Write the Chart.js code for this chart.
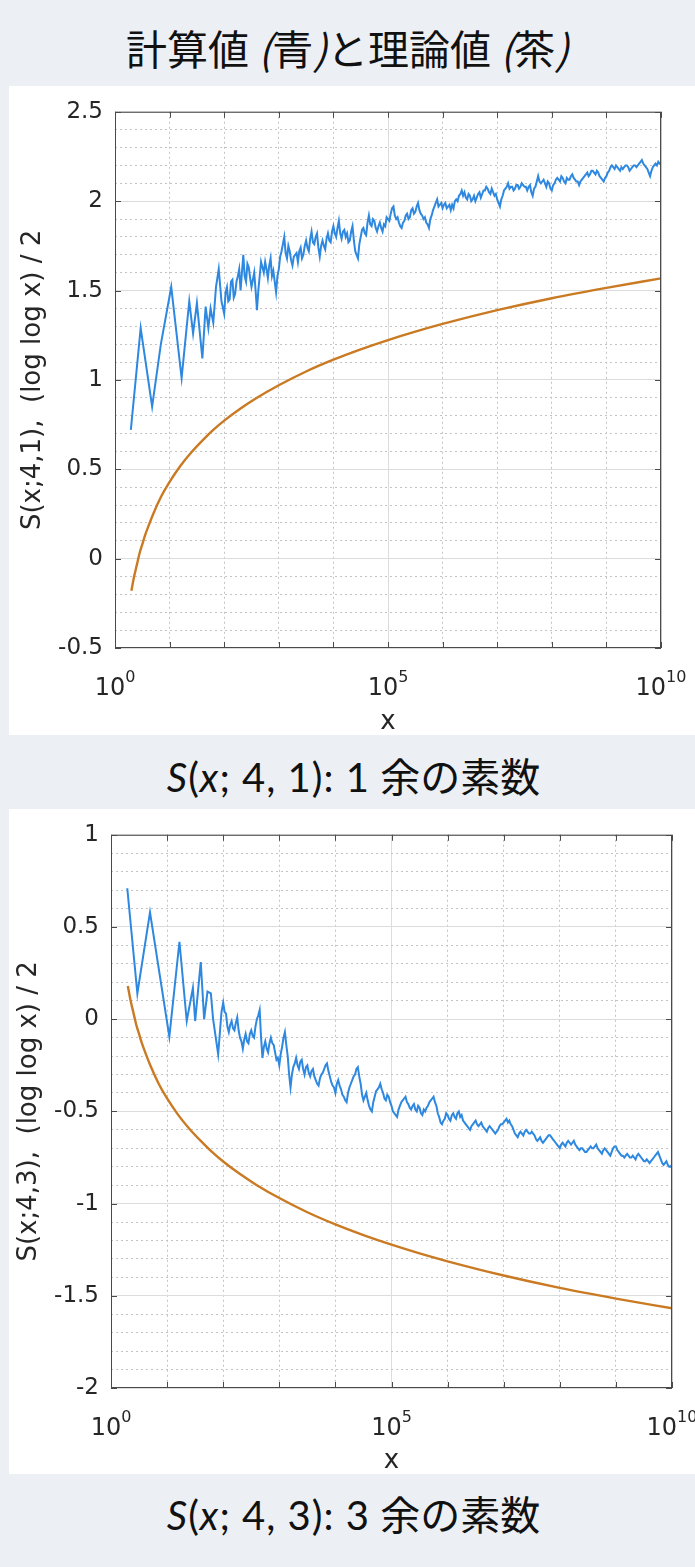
<!DOCTYPE html>
<html>
<head>
<meta charset="utf-8">
<script src="https://cdn.jsdelivr.net/npm/chart.js@4.4.1/dist/chart.umd.min.js"></script>
<style>
  body { margin: 0; width: 695px; height: 1567px; background: #ecf0f5; position: relative; overflow: hidden; }
  .txt { position: absolute; left: 0; width: 695px; text-align: center; color: #111;
         font-family: "Noto Sans CJK JP", sans-serif; line-height: 48px; white-space: nowrap; }
  #title { top: 23px; font-size: 41px; }
  .cap { font-family: Lato, "Noto Sans CJK JP", sans-serif; font-size: 40px; padding-left: 12px; box-sizing: border-box; }
  .cap .m { letter-spacing: 1px; }
  #cap1 { top: 753px; }
  #cap2 { top: 1491px; }
  .panel { position: absolute; left: 9px; width: 686px; background: #fff; }
  #p1 { top: 86px; height: 649px; }
  #p2 { top: 809px; height: 665px; }
  canvas { display: block; }
</style>
</head>
<body>
<div id="title" class="txt">計算値 <i>(</i>青<i>)</i>と理論値 <i>(</i>茶<i>)</i></div>
<div id="p1" class="panel"><canvas id="c1" width="686" height="649"></canvas></div>
<div id="cap1" class="txt cap"><span class="m"><i>S</i>(<i>x</i>; 4, 1): 1</span> 余の素数</div>
<div id="p2" class="panel"><canvas id="c2" width="686" height="665"></canvas></div>
<div id="cap2" class="txt cap"><span class="m"><i>S</i>(<i>x</i>; 4, 3): 3</span> 余の素数</div>

<script>
// x values are log10(x)
const xLabelExps = [0, 5, 10];
const xTickExps = [0, 1, 2, 3, 4, 5, 6, 7, 8, 9, 10];

// computed S(x;4,1) - sparse start
const earlyX41 = [0.29, 0.47, 0.68, 0.84, 1.03, 1.22, 1.36, 1.43, 1.50, 1.60, 1.66, 1.71, 1.75, 1.80, 1.85, 1.90, 1.95, 2.00];
const earlyY41 = [0.72, 1.29, 0.85, 1.20, 1.52, 1.01, 1.44, 1.26, 1.43, 1.12, 1.41, 1.29, 1.40, 1.32, 1.52, 1.62, 1.44, 1.37];

// computed S(x;4,3) - sparse start
const earlyX43 = [0.29, 0.47, 0.695, 1.04, 1.22, 1.35, 1.46, 1.50, 1.60, 1.66, 1.72, 1.78, 1.82, 1.91, 1.97, 2.00];
const earlyY43 = [0.71, 0.14, 0.58, -0.095, 0.42, -0.01, 0.17, -0.01, 0.31, 0.0, 0.15, 0.14, 0.0, -0.19, 0.04, 0.09];

// dense part, shared x (one row = half a decade)
const denseX = [
  2.025, 2.05, 2.075, 2.1, 2.125, 2.15, 2.175, 2.2, 2.225, 2.25, 2.275, 2.3, 2.325, 2.35, 2.375, 2.4, 2.425, 2.45, 2.475, 2.5,
  2.525, 2.55, 2.575, 2.6, 2.625, 2.65, 2.675, 2.7, 2.725, 2.75, 2.775, 2.8, 2.825, 2.85, 2.875, 2.9, 2.925, 2.95, 2.975, 3.0,
  3.025, 3.05, 3.075, 3.1, 3.125, 3.15, 3.175, 3.2, 3.225, 3.25, 3.275, 3.3, 3.325, 3.35, 3.375, 3.4, 3.425, 3.45, 3.475, 3.5,
  3.525, 3.55, 3.575, 3.6, 3.625, 3.65, 3.675, 3.7, 3.725, 3.75, 3.775, 3.8, 3.825, 3.85, 3.875, 3.9, 3.925, 3.95, 3.975, 4.0,
  4.025, 4.05, 4.075, 4.1, 4.125, 4.15, 4.175, 4.2, 4.225, 4.25, 4.275, 4.3, 4.325, 4.35, 4.375, 4.4, 4.425, 4.45, 4.475, 4.5,
  4.525, 4.55, 4.575, 4.6, 4.625, 4.65, 4.675, 4.7, 4.725, 4.75, 4.775, 4.8, 4.825, 4.85, 4.875, 4.9, 4.925, 4.95, 4.975, 5.0,
  5.025, 5.05, 5.075, 5.1, 5.125, 5.15, 5.175, 5.2, 5.225, 5.25, 5.275, 5.3, 5.325, 5.35, 5.375, 5.4, 5.425, 5.45, 5.475, 5.5,
  5.525, 5.55, 5.575, 5.6, 5.625, 5.65, 5.675, 5.7, 5.725, 5.75, 5.775, 5.8, 5.825, 5.85, 5.875, 5.9, 5.925, 5.95, 5.975, 6.0,
  6.025, 6.05, 6.075, 6.1, 6.125, 6.15, 6.175, 6.2, 6.225, 6.25, 6.275, 6.3, 6.325, 6.35, 6.375, 6.4, 6.425, 6.45, 6.475, 6.5,
  6.525, 6.55, 6.575, 6.6, 6.625, 6.65, 6.675, 6.7, 6.725, 6.75, 6.775, 6.8, 6.825, 6.85, 6.875, 6.9, 6.925, 6.95, 6.975, 7.0,
  7.025, 7.05, 7.075, 7.1, 7.125, 7.15, 7.175, 7.2, 7.225, 7.25, 7.275, 7.3, 7.325, 7.35, 7.375, 7.4, 7.425, 7.45, 7.475, 7.5,
  7.525, 7.55, 7.575, 7.6, 7.625, 7.65, 7.675, 7.7, 7.725, 7.75, 7.775, 7.8, 7.825, 7.85, 7.875, 7.9, 7.925, 7.95, 7.975, 8.0,
  8.025, 8.05, 8.075, 8.1, 8.125, 8.15, 8.175, 8.2, 8.225, 8.25, 8.275, 8.3, 8.325, 8.35, 8.375, 8.4, 8.425, 8.45, 8.475, 8.5,
  8.525, 8.55, 8.575, 8.6, 8.625, 8.65, 8.675, 8.7, 8.725, 8.75, 8.775, 8.8, 8.825, 8.85, 8.875, 8.9, 8.925, 8.95, 8.975, 9.0,
  9.025, 9.05, 9.075, 9.1, 9.125, 9.15, 9.175, 9.2, 9.225, 9.25, 9.275, 9.3, 9.325, 9.35, 9.375, 9.4, 9.425, 9.45, 9.475, 9.5,
  9.525, 9.55, 9.575, 9.6, 9.625, 9.65, 9.675, 9.7, 9.725, 9.75, 9.775, 9.8, 9.825, 9.85, 9.875, 9.9, 9.925, 9.95, 9.975, 10.0
];
const denseY41 = [
  1.49, 1.52, 1.44, 1.45, 1.55, 1.56, 1.46, 1.48, 1.55, 1.58, 1.62, 1.50, 1.60, 1.70, 1.58, 1.55, 1.65, 1.63, 1.57, 1.52,
  1.56, 1.60, 1.50, 1.39, 1.50, 1.58, 1.66, 1.63, 1.60, 1.66, 1.62, 1.57, 1.64, 1.68, 1.58, 1.61, 1.55, 1.49, 1.58, 1.62,
  1.69, 1.72, 1.76, 1.80, 1.71, 1.68, 1.75, 1.72, 1.67, 1.64, 1.69, 1.70, 1.71, 1.66, 1.72, 1.74, 1.68, 1.70, 1.75, 1.78,
  1.74, 1.72, 1.79, 1.83, 1.77, 1.76, 1.80, 1.82, 1.74, 1.69, 1.75, 1.78, 1.75, 1.73, 1.79, 1.82, 1.78, 1.77, 1.83, 1.86,
  1.82, 1.80, 1.85, 1.89, 1.82, 1.79, 1.83, 1.84, 1.80, 1.82, 1.77, 1.78, 1.83, 1.86, 1.78, 1.72, 1.70, 1.68, 1.76, 1.80,
  1.84, 1.85, 1.82, 1.81, 1.88, 1.92, 1.87, 1.86, 1.90, 1.89, 1.85, 1.83, 1.86, 1.88, 1.85, 1.83, 1.87, 1.86, 1.91, 1.90,
  1.89, 1.93, 1.96, 1.97, 1.92, 1.90, 1.91, 1.88, 1.86, 1.85, 1.88, 1.89, 1.92, 1.93, 1.90, 1.91, 1.95, 1.96, 1.93, 1.94,
  1.97, 1.99, 1.95, 1.93, 1.92, 1.90, 1.91, 1.88, 1.87, 1.85, 1.90, 1.92, 1.95, 1.97, 1.99, 2.01, 1.97, 1.98, 1.99, 1.96,
  1.98, 1.99, 1.96, 1.97, 1.98, 1.95, 1.98, 1.96, 2.00, 2.01, 2.00, 2.03, 2.04, 2.06, 2.03, 2.05, 2.02, 2.01, 2.04, 2.03,
  2.00, 2.01, 2.03, 2.00, 2.02, 2.04, 2.05, 2.02, 2.04, 2.06, 2.06, 2.08, 2.07, 2.05, 2.04, 2.07, 2.05, 2.03, 2.04, 2.01,
  1.99, 1.97, 2.01, 2.03, 2.06, 2.07, 2.08, 2.10, 2.07, 2.08, 2.08, 2.06, 2.07, 2.09, 2.09, 2.07, 2.08, 2.10, 2.09, 2.08,
  2.08, 2.06, 2.08, 2.09, 2.05, 2.03, 2.07, 2.08, 2.11, 2.14, 2.11, 2.10, 2.11, 2.12, 2.10, 2.08, 2.11, 2.10, 2.07, 2.06,
  2.09, 2.10, 2.12, 2.13, 2.12, 2.11, 2.14, 2.13, 2.11, 2.10, 2.13, 2.12, 2.12, 2.14, 2.15, 2.13, 2.12, 2.11, 2.11, 2.09,
  2.11, 2.12, 2.13, 2.14, 2.15, 2.16, 2.14, 2.15, 2.17, 2.17, 2.16, 2.15, 2.17, 2.16, 2.14, 2.13, 2.12, 2.11, 2.13, 2.14,
  2.16, 2.17, 2.19, 2.20, 2.19, 2.18, 2.20, 2.19, 2.18, 2.17, 2.19, 2.18, 2.19, 2.20, 2.20, 2.19, 2.17, 2.18, 2.19, 2.20,
  2.20, 2.19, 2.20, 2.21, 2.22, 2.23, 2.21, 2.20, 2.19, 2.18, 2.16, 2.14, 2.17, 2.19, 2.20, 2.21, 2.20, 2.22, 2.21, 2.21
];
const denseY43 = [
  0.04, 0.03, -0.04, -0.07, -0.03, -0.01, -0.05, -0.06, -0.02, 0.01, -0.06, -0.10, -0.12, -0.16, -0.11, -0.08, -0.12, -0.13, -0.08, -0.06,
  -0.09, -0.10, -0.04, 0.00, 0.02, 0.05, -0.10, -0.21, -0.15, -0.12, -0.16, -0.18, -0.13, -0.10, -0.13, -0.14, -0.18, -0.22, -0.21, -0.25,
  -0.19, -0.15, -0.10, -0.07, -0.14, -0.20, -0.30, -0.37, -0.30, -0.26, -0.24, -0.21, -0.25, -0.27, -0.23, -0.22, -0.27, -0.30, -0.26, -0.25,
  -0.29, -0.31, -0.28, -0.27, -0.31, -0.33, -0.35, -0.36, -0.32, -0.30, -0.29, -0.27, -0.25, -0.24, -0.28, -0.31, -0.34, -0.36, -0.37, -0.40,
  -0.35, -0.33, -0.36, -0.38, -0.41, -0.42, -0.44, -0.45, -0.40, -0.37, -0.35, -0.33, -0.31, -0.30, -0.27, -0.26, -0.31, -0.35, -0.41, -0.44,
  -0.42, -0.40, -0.44, -0.47, -0.49, -0.50, -0.45, -0.42, -0.39, -0.38, -0.37, -0.35, -0.38, -0.40, -0.43, -0.44, -0.41, -0.42, -0.45, -0.47,
  -0.50, -0.51, -0.52, -0.53, -0.49, -0.47, -0.45, -0.44, -0.43, -0.42, -0.45, -0.46, -0.48, -0.49, -0.47, -0.46, -0.49, -0.50, -0.47, -0.48,
  -0.51, -0.52, -0.49, -0.50, -0.48, -0.47, -0.45, -0.44, -0.43, -0.42, -0.45, -0.47, -0.51, -0.53, -0.56, -0.57, -0.55, -0.54, -0.51, -0.52,
  -0.54, -0.55, -0.52, -0.51, -0.53, -0.54, -0.51, -0.50, -0.53, -0.52, -0.55, -0.56, -0.57, -0.58, -0.59, -0.60, -0.58, -0.57, -0.56, -0.55,
  -0.57, -0.58, -0.57, -0.56, -0.58, -0.59, -0.60, -0.61, -0.59, -0.58, -0.59, -0.60, -0.61, -0.62, -0.61, -0.60, -0.58, -0.57, -0.57, -0.56,
  -0.55, -0.54, -0.56, -0.55, -0.57, -0.58, -0.60, -0.62, -0.63, -0.64, -0.62, -0.61, -0.62, -0.63, -0.61, -0.60, -0.61, -0.62, -0.62, -0.61,
  -0.62, -0.63, -0.65, -0.66, -0.65, -0.64, -0.66, -0.67, -0.66, -0.65, -0.64, -0.63, -0.63, -0.64, -0.65, -0.66, -0.67, -0.68, -0.69, -0.70,
  -0.68, -0.67, -0.68, -0.69, -0.67, -0.66, -0.67, -0.68, -0.67, -0.66, -0.68, -0.69, -0.70, -0.71, -0.70, -0.70, -0.71, -0.72, -0.72, -0.71,
  -0.70, -0.69, -0.70, -0.70, -0.69, -0.68, -0.70, -0.71, -0.72, -0.73, -0.71, -0.70, -0.71, -0.72, -0.73, -0.74, -0.72, -0.70, -0.69, -0.69,
  -0.71, -0.72, -0.73, -0.74, -0.74, -0.75, -0.74, -0.73, -0.74, -0.75, -0.75, -0.74, -0.75, -0.76, -0.74, -0.73, -0.74, -0.75, -0.76, -0.77,
  -0.77, -0.76, -0.77, -0.78, -0.77, -0.76, -0.75, -0.74, -0.73, -0.72, -0.74, -0.76, -0.78, -0.79, -0.78, -0.77, -0.79, -0.80, -0.80, -0.79
];

// theory (log log x)/2, brown
const theoryX = [0.30, 0.35, 0.40, 0.45, 0.50, 0.55, 0.60, 0.70, 0.85, 1.00, 1.20, 1.40, 1.60, 1.80, 2.00, 2.30, 2.60, 3.00, 3.50, 4.00, 4.50, 5.00, 5.50, 6.00, 7.00, 8.00, 9.00, 10.00];
const theory41 = [-0.18, -0.10, -0.035, 0.03, 0.08, 0.13, 0.172, 0.25, 0.35, 0.43, 0.52, 0.595, 0.66, 0.72, 0.772, 0.84, 0.90, 0.97, 1.047, 1.113, 1.171, 1.223, 1.27, 1.313, 1.39, 1.457, 1.515, 1.568];
const theory43 = [0.18, 0.10, 0.035, -0.03, -0.08, -0.13, -0.172, -0.25, -0.35, -0.43, -0.52, -0.595, -0.66, -0.72, -0.772, -0.84, -0.90, -0.97, -1.047, -1.113, -1.171, -1.223, -1.27, -1.313, -1.39, -1.457, -1.515, -1.568];

const BLUE = '#2e88df';
const BROWN = '#c97a22';
const AXIS = '#4a4a4a';
const TEXT = '#262626';
const FONT = '"DejaVu Sans", Verdana, sans-serif';

function pts(xs, ys) {
  return xs.map((x, i) => ({ x: x, y: ys[i] }));
}

function isMajor(v) {
  return Math.abs(v * 2 - Math.round(v * 2)) < 1e-6;
}

// box, inward ticks, 10^n labels
const framePlugin = {
  id: 'frame',
  afterDraw(chart) {
    const { ctx, chartArea: a, scales: { x, y } } = chart;
    ctx.save();
    ctx.strokeStyle = AXIS;
    ctx.lineWidth = 1;
    ctx.strokeRect(a.left + 0.5, a.top + 0.5, a.right - a.left - 1, a.bottom - a.top - 1);
    ctx.beginPath();
    xTickExps.forEach(e => {
      const px = Math.round(x.getPixelForValue(e)) + 0.5;
      ctx.moveTo(px, a.bottom); ctx.lineTo(px, a.bottom - 6);
      ctx.moveTo(px, a.top); ctx.lineTo(px, a.top + 6);
    });
    y.ticks.forEach(t => {
      if (!isMajor(t.value)) return;
      const py = Math.round(y.getPixelForValue(t.value)) + 0.5;
      ctx.moveTo(a.left, py); ctx.lineTo(a.left + 6, py);
      ctx.moveTo(a.right, py); ctx.lineTo(a.right - 6, py);
    });
    ctx.stroke();

    ctx.fillStyle = TEXT;
    ctx.textBaseline = 'alphabetic';
    ctx.textAlign = 'left';
    xLabelExps.forEach(e => {
      const base = '10', sup = String(e);
      ctx.font = '24px ' + FONT;
      const wb = ctx.measureText(base).width;
      ctx.font = '16px ' + FONT;
      const ws = ctx.measureText(sup).width;
      const x0 = x.getPixelForValue(e) - (wb + ws) / 2;
      ctx.font = '24px ' + FONT;
      ctx.fillText(base, x0, a.bottom + 47);
      ctx.font = '16px ' + FONT;
      ctx.fillText(sup, x0 + wb, a.bottom + 34);
    });
    ctx.restore();
  }
};

function makeChart(id, cfg) {
  return new Chart(document.getElementById(id), {
    type: 'line',
    data: {
      datasets: [
        {
          data: cfg.calc,
          borderColor: BLUE,
          borderWidth: 2,
          pointRadius: 0,
          tension: 0,
          order: 2
        },
        {
          data: cfg.theory,
          borderColor: BROWN,
          borderWidth: 2.4,
          pointRadius: 0,
          cubicInterpolationMode: 'monotone',
          order: 1
        }
      ]
    },
    options: {
      responsive: false,
      animation: false,
      devicePixelRatio: 1,
      layout: { padding: { top: cfg.padTop, right: cfg.padRight, left: 0, bottom: 0 } },
      plugins: { legend: { display: false }, tooltip: { enabled: false } },
      scales: {
        x: {
          type: 'linear',
          min: 0,
          max: 10,
          afterFit: s => { s.height = cfg.xHeight; },
          ticks: { stepSize: 1, autoSkip: false, display: false },
          grid: {
            drawTicks: false,
            color: c => (c.tick && c.tick.value === 5) ? '#dcdcdc' : '#c4c4c4'
          },
          border: {
            display: false,
            dash: c => (c.tick && c.tick.value % 5 === 0) ? [] : [2, 3]
          },
          title: {
            display: true,
            text: 'x',
            color: TEXT,
            font: { family: FONT, size: 26, lineHeight: 1 },
            padding: { top: 0, bottom: cfg.xTitlePad }
          }
        },
        y: {
          min: cfg.yMin,
          max: cfg.yMax,
          afterFit: s => { s.width = cfg.yWidth; },
          ticks: {
            stepSize: 0.1,
            autoSkip: false,
            padding: 12,
            color: TEXT,
            font: { family: FONT, size: 23 },
            callback: v => isMajor(v) ? String(Math.round(v * 10) / 10) : ''
          },
          grid: {
            drawTicks: false,
            color: c => (c.tick && isMajor(c.tick.value)) ? '#dcdcdc' : '#c4c4c4'
          },
          border: {
            display: false,
            dash: c => (c.tick && isMajor(c.tick.value)) ? [] : [2, 3]
          },
          title: {
            display: true,
            text: cfg.yTitle,
            color: TEXT,
            font: { family: FONT, size: 26, lineHeight: 1 },
            padding: { top: cfg.yTitlePad, bottom: 0 }
          }
        }
      }
    },
    plugins: [framePlugin]
  });
}

makeChart('c1', {
  calc: pts(earlyX41.concat(denseX), earlyY41.concat(denseY41)),
  theory: pts(theoryX, theory41),
  yMin: -0.5, yMax: 2.5,
  padTop: 25, padRight: 34, xHeight: 87, yWidth: 106,
  xTitlePad: 0, yTitlePad: 11,
  yTitle: 'S(x;4,1),  (log log x) / 2'
});

makeChart('c2', {
  calc: pts(earlyX43.concat(denseX), earlyY43.concat(denseY43)),
  theory: pts(theoryX, theory43),
  yMin: -2, yMax: 1,
  padTop: 18, padRight: 23, xHeight: 86, yWidth: 102,
  xTitlePad: 0, yTitlePad: 7,
  yTitle: 'S(x;4,3),  (log log x) / 2'
});
</script>
</body>
</html>
